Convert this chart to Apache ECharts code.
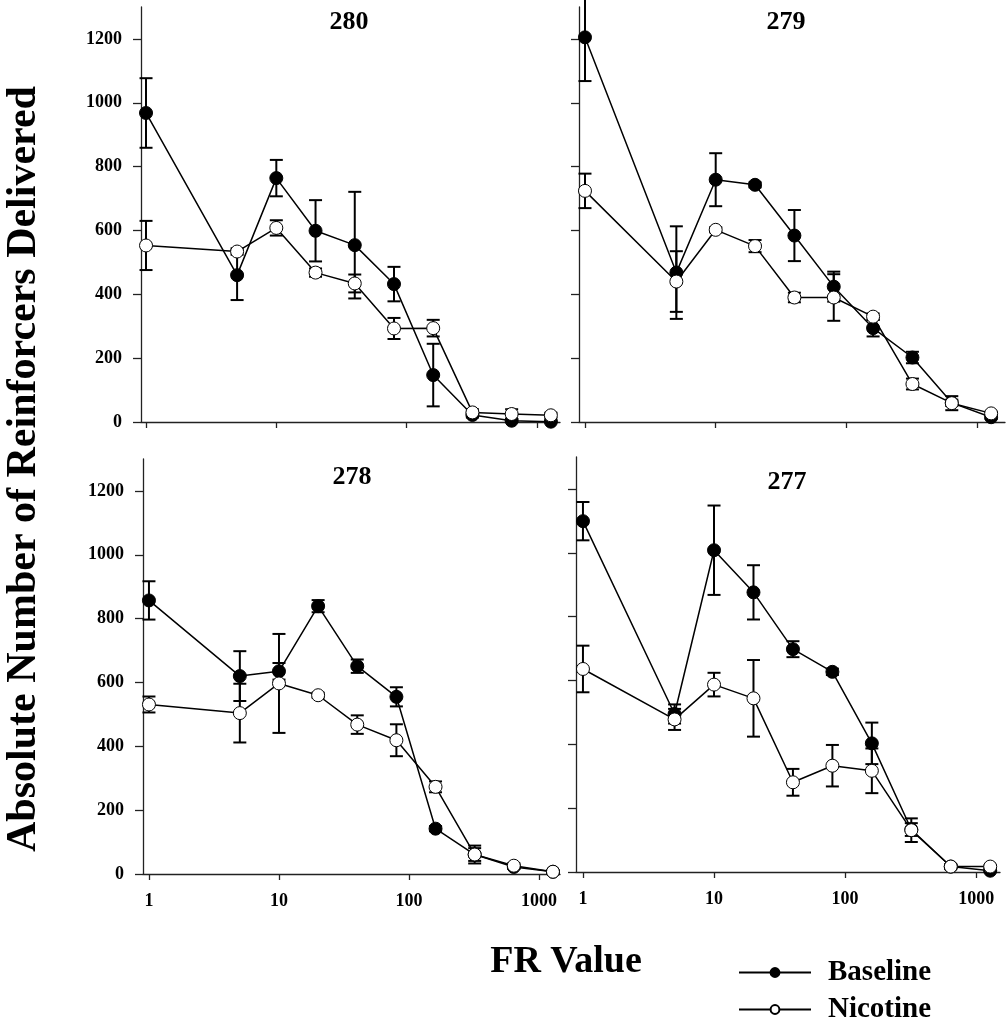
<!DOCTYPE html>
<html>
<head>
<meta charset="utf-8">
<script src="https://cdn.jsdelivr.net/npm/echarts@6/dist/echarts.min.js"></script>
<style>
  html, body { margin: 0; padding: 0; background: #fff; }
  #chart { width: 1006px; height: 1021px; }
</style>
</head>
<body>
<div id="chart"></div>
<script>
// ---- Data ----
const FR = [1, 5, 10, 20, 40, 80, 160, 320, 640, 1280];
const xTicks = [1, 10, 100, 1000];
const yTicks = [0, 200, 400, 600, 800, 1000, 1200];
const panelTitles = ['280', '279', '278', '277'];

const base280 = [968, 460, 764, 599, 554, 432, 147, 22, 4, 1];
const base280Err = [109, 78, 57, 96, 167, 54, 98, 8, 5, 4];
const nic280 = [553, 534, 608, 468, 434, 293, 294, 30, 25, 21];
const nic280Err = [77, 10, 24, 13, 28, 33, 26, 10, 15, 8];

const base279 = [1205, 468, 759, 743, 584, 424, 294, 202, 60, 15];
const base279Err = [137, 145, 83, 8, 80, 47, 26, 18, 10, 5];
const nic279 = [724, 440, 602, 551, 390, 390, 330, 119, 59, 27];
const nic279Err = [54, 95, 8, 19, 15, 73, 10, 17, 22, 5];

const base278 = [857, 620, 635, 839, 651, 555, 142, 61, 22, 7];
const base278Err = [60, 78, 26, 19, 21, 30, 8, 28, 6, 3];
const nic278 = [531, 504, 597, 560, 468, 419, 273, 61, 26, 7];
const nic278Err = [25, 92, 155, 8, 29, 50, 17, 20, 8, 3];

const base277 = [1099, 495, 1008, 876, 698, 627, 403, 133, 17, 4];
const base277Err = [60, 30, 140, 85, 25, 10, 65, 20, 5, 3];
const nic277 = [636, 478, 587, 544, 281, 333, 317, 131, 17, 17];
const nic277Err = [73, 33, 37, 120, 42, 65, 70, 37, 8, 5];

// ---- Layout ----
const FONT = '"Liberation Serif", "Times New Roman", serif';
const panels = [
  { grid: { left: 141, top: 7, width: 419, height: 415 }, xmin: 0.915, xmax: 1504, base: base280, baseErr: base280Err, nic: nic280, nicErr: nic280Err, yLabels: true, xLabels: false, title: [349, 22] },
  { grid: { left: 579, top: 7, width: 426, height: 415 }, xmin: 0.90, xmax: 1634, base: base279, baseErr: base279Err, nic: nic279, nicErr: nic279Err, yLabels: false, xLabels: false, title: [786, 22] },
  { grid: { left: 143, top: 459, width: 417, height: 415 }, xmin: 0.90, xmax: 1450, base: base278, baseErr: base278Err, nic: nic278, nicErr: nic278Err, yLabels: true, xLabels: true, title: [352, 477] },
  { grid: { left: 576, top: 457, width: 424, height: 415 }, xmin: 0.885, xmax: 1520, base: base277, baseErr: base277Err, nic: nic277, nicErr: nic277Err, yLabels: false, xLabels: true, title: [787, 482] }
];

const grids = [], xAxes = [], yAxes = [], series = [], graphics = [];
const plain = v => String(Math.round(v));

function errSeries(gi, vals, errs) {
  return {
    type: 'custom', xAxisIndex: gi, yAxisIndex: gi, z: 2, silent: true,
    data: FR.map((f, i) => [f, Math.max(0, vals[i] - errs[i]), vals[i] + errs[i]]),
    encode: { x: 0, y: [1, 2] },
    renderItem: function (params, api) {
      const lo = api.coord([api.value(0), api.value(1)]);
      const hi = api.coord([api.value(0), api.value(2)]);
      const hw = 6.5;
      const st = { stroke: '#000', lineWidth: 2 };
      return {
        type: 'group',
        children: [
          { type: 'line', shape: { x1: lo[0], y1: lo[1], x2: hi[0], y2: hi[1] }, style: st },
          { type: 'line', shape: { x1: lo[0] - hw, y1: lo[1], x2: lo[0] + hw, y2: lo[1] }, style: st },
          { type: 'line', shape: { x1: hi[0] - hw, y1: hi[1], x2: hi[0] + hw, y2: hi[1] }, style: st }
        ]
      };
    }
  };
}

panels.forEach((p, gi) => {
  grids.push(Object.assign({ containLabel: false }, p.grid));
  xAxes.push({
    type: 'log', logBase: 10, gridIndex: gi, min: p.xmin, max: p.xmax,
    axisLine: { show: true, onZero: false, lineStyle: { color: '#222', width: 1.3 } },
    axisTick: { show: true, customValues: xTicks, length: 6, lineStyle: { color: '#222', width: 1.3 } },
    axisLabel: { show: p.xLabels, customValues: xTicks, formatter: plain, margin: 18, color: '#000', fontFamily: FONT, fontWeight: 'bold', fontSize: 18 },
    splitLine: { show: false }, minorTick: { show: false }
  });
  yAxes.push({
    type: 'value', gridIndex: gi, min: 0, max: 1300, interval: 200,
    axisLine: { show: true, onZero: false, lineStyle: { color: '#222', width: 1.3 } },
    axisTick: { show: true, customValues: yTicks, length: 8, lineStyle: { color: '#222', width: 1.3 } },
    axisLabel: { show: p.yLabels, customValues: yTicks, formatter: plain, margin: 19, color: '#000', fontFamily: FONT, fontWeight: 'bold', fontSize: 18 },
    splitLine: { show: false }
  });
  series.push(errSeries(gi, p.base, p.baseErr));
  series.push(errSeries(gi, p.nic, p.nicErr));
  series.push({
    name: 'Baseline', type: 'line', xAxisIndex: gi, yAxisIndex: gi, z: 3,
    data: FR.map((f, i) => [f, p.base[i]]),
    symbol: 'circle', symbolSize: 13,
    lineStyle: { color: '#000', width: 1.5 },
    itemStyle: { color: '#000', borderColor: '#000', borderWidth: 1 },
    emphasis: { disabled: true }
  });
  series.push({
    name: 'Nicotine', type: 'line', xAxisIndex: gi, yAxisIndex: gi, z: 4,
    data: FR.map((f, i) => [f, p.nic[i]]),
    symbol: 'circle', symbolSize: 13,
    lineStyle: { color: '#000', width: 1.5 },
    itemStyle: { color: '#fff', borderColor: '#000', borderWidth: 1 },
    emphasis: { disabled: true }
  });
  graphics.push({
    type: 'text', x: p.title[0], y: p.title[1],
    style: { text: panelTitles[gi], fill: '#000', font: 'bold 26px ' + FONT, textAlign: 'center', textVerticalAlign: 'middle' }
  });
});

graphics.push({
  type: 'text', x: 24, y: 469, rotation: Math.PI / 2,
  style: { text: 'Absolute Number of Reinforcers Delivered', fill: '#000', font: 'bold 42px ' + FONT, textAlign: 'center', textVerticalAlign: 'middle' }
});
graphics.push({
  type: 'text', x: 566, y: 962,
  style: { text: 'FR Value', fill: '#000', font: 'bold 38px ' + FONT, textAlign: 'center', textVerticalAlign: 'middle' }
});

const chart = echarts.init(document.getElementById('chart'), null, { renderer: 'canvas' });
chart.setOption({
  animation: false,
  backgroundColor: '#fff',
  grid: grids,
  xAxis: xAxes,
  yAxis: yAxes,
  series: series,
  graphic: graphics,
  legend: {
    data: ['Baseline', 'Nicotine'],
    orient: 'vertical', left: 738, top: 958, height: 80, padding: 0,
    itemWidth: 72, itemHeight: 11, itemGap: 8,
    selectedMode: false,
    textStyle: { color: '#000', fontFamily: FONT, fontWeight: 'bold', fontSize: 29, lineHeight: 27, padding: [0, 0, 0, 12] }
  }
});
</script>
</body>
</html>
